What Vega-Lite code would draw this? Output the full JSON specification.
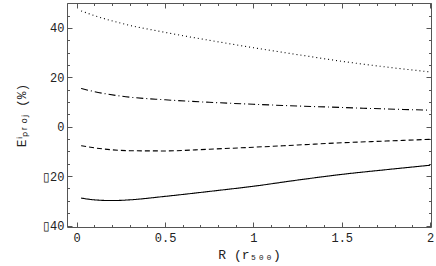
{
  "$schema": "https://vega.github.io/schema/vega-lite/v6.json",
  "width": 364,
  "height": 224,
  "autosize": "none",
  "padding": {"left": 67, "top": 3, "right": 5, "bottom": 39},
  "background": "white",
  "config": {
    "view": {"stroke": null},
    "axis": {
      "domainColor": "#555",
      "tickColor": "#555",
      "labelFont": "Liberation Mono",
      "labelFontSize": 12,
      "labelColor": "#222",
      "titleFont": "Liberation Mono",
      "titleFontSize": 13,
      "titleFontWeight": "normal",
      "titleColor": "#222",
      "grid": false
    }
  },
  "data": {
    "values": [
      {"r": 0.025, "e": 46.9, "s": "dotted"},
      {"r": 0.1, "e": 45.0, "s": "dotted"},
      {"r": 0.25, "e": 41.9, "s": "dotted"},
      {"r": 0.5, "e": 38.2, "s": "dotted"},
      {"r": 0.75, "e": 35.0, "s": "dotted"},
      {"r": 1.0, "e": 32.0, "s": "dotted"},
      {"r": 1.25, "e": 29.2, "s": "dotted"},
      {"r": 1.5, "e": 26.5, "s": "dotted"},
      {"r": 1.75, "e": 24.2, "s": "dotted"},
      {"r": 2.0, "e": 22.2, "s": "dotted"},
      {"r": 0.025, "e": 15.5, "s": "dashdot"},
      {"r": 0.1, "e": 14.2, "s": "dashdot"},
      {"r": 0.25, "e": 12.4, "s": "dashdot"},
      {"r": 0.5, "e": 10.9, "s": "dashdot"},
      {"r": 0.75, "e": 9.9, "s": "dashdot"},
      {"r": 1.0, "e": 9.1, "s": "dashdot"},
      {"r": 1.25, "e": 8.4, "s": "dashdot"},
      {"r": 1.5, "e": 7.8, "s": "dashdot"},
      {"r": 1.75, "e": 7.2, "s": "dashdot"},
      {"r": 2.0, "e": 6.7, "s": "dashdot"},
      {"r": 0.025, "e": -7.7, "s": "dashed"},
      {"r": 0.15, "e": -9.0, "s": "dashed"},
      {"r": 0.3, "e": -9.7, "s": "dashed"},
      {"r": 0.5, "e": -9.8, "s": "dashed"},
      {"r": 0.75, "e": -9.1, "s": "dashed"},
      {"r": 1.0, "e": -8.3, "s": "dashed"},
      {"r": 1.25, "e": -7.4, "s": "dashed"},
      {"r": 1.5, "e": -6.5, "s": "dashed"},
      {"r": 1.75, "e": -5.8, "s": "dashed"},
      {"r": 2.0, "e": -5.1, "s": "dashed"},
      {"r": 0.025, "e": -28.9, "s": "solid"},
      {"r": 0.1, "e": -29.6, "s": "solid"},
      {"r": 0.2, "e": -29.9, "s": "solid"},
      {"r": 0.3, "e": -29.6, "s": "solid"},
      {"r": 0.5, "e": -28.2, "s": "solid"},
      {"r": 0.75, "e": -26.2, "s": "solid"},
      {"r": 1.0, "e": -24.1, "s": "solid"},
      {"r": 1.25, "e": -21.6, "s": "solid"},
      {"r": 1.5, "e": -19.3, "s": "solid"},
      {"r": 1.75, "e": -17.4, "s": "solid"},
      {"r": 2.0, "e": -15.6, "s": "solid"}
    ]
  },
  "resolve": {"axis": {"x": "independent", "y": "independent"}},
  "layer": [
    {
      "mark": {"type": "line", "interpolate": "monotone", "color": "black", "strokeWidth": 1.1},
      "encoding": {
        "x": {"field": "r", "type": "quantitative",
          "scale": {"domain": [-0.055, 2.005], "nice": false, "zero": false},
          "axis": {"orient": "bottom", "values": [0, 0.5, 1, 1.5, 2], "format": "~g", "tickSize": -5, "labelPadding": 10, "labelFlush": false, "title": "R (r₅₀₀)", "titlePadding": 5}},
        "y": {"field": "e", "type": "quantitative",
          "scale": {"domain": [-40.6, 50.1], "nice": false, "zero": false},
          "axis": {"orient": "left", "values": [-40, -20, 0, 20, 40], "tickSize": -5, "labelPadding": 8, "labelFlush": false,
            "labelExpr": "datum.value < 0 ? '▯' + format(-datum.value, 'd') : format(datum.value, 'd')",
            "title": "Eⁱₚᵣₒⱼ (%)", "titlePadding": 14}},
        "strokeDash": {"field": "s", "type": "nominal", "legend": null,
          "scale": {"domain": ["dotted", "dashdot", "dashed", "solid"], "range": [[1, 3], [7, 3, 1, 3], [5, 3], [1, 0]]}}
      }
    },
    {
      "mark": {"type": "line", "opacity": 0},
      "encoding": {
        "x": {"field": "r", "type": "quantitative",
          "axis": {"orient": "bottom", "values": [0.1, 0.2, 0.3, 0.4, 0.6, 0.7, 0.8, 0.9, 1.1, 1.2, 1.3, 1.4, 1.6, 1.7, 1.8, 1.9], "tickSize": -2.5, "labels": false, "domain": false, "title": null}},
        "y": {"field": "e", "type": "quantitative",
          "axis": {"orient": "left", "values": [-35, -30, -25, -15, -10, -5, 5, 10, 15, 25, 30, 35, 45, 50], "tickSize": -2.5, "labels": false, "domain": false, "title": null}},
        "detail": {"field": "s"}
      }
    },
    {
      "mark": {"type": "line", "opacity": 0},
      "encoding": {
        "x": {"field": "r", "type": "quantitative",
          "axis": {"orient": "top", "values": [0, 0.5, 1, 1.5, 2], "tickSize": -5, "labels": false, "title": null}},
        "y": {"field": "e", "type": "quantitative",
          "axis": {"orient": "right", "values": [-40, -20, 0, 20, 40], "tickSize": -5, "labels": false, "title": null}},
        "detail": {"field": "s"}
      }
    },
    {
      "mark": {"type": "line", "opacity": 0},
      "encoding": {
        "x": {"field": "r", "type": "quantitative",
          "axis": {"orient": "top", "values": [0.1, 0.2, 0.3, 0.4, 0.6, 0.7, 0.8, 0.9, 1.1, 1.2, 1.3, 1.4, 1.6, 1.7, 1.8, 1.9], "tickSize": -2.5, "labels": false, "domain": false, "title": null}},
        "y": {"field": "e", "type": "quantitative",
          "axis": {"orient": "right", "values": [-35, -30, -25, -15, -10, -5, 5, 10, 15, 25, 30, 35, 45, 50], "tickSize": -2.5, "labels": false, "domain": false, "title": null}},
        "detail": {"field": "s"}
      }
    }
  ]
}
